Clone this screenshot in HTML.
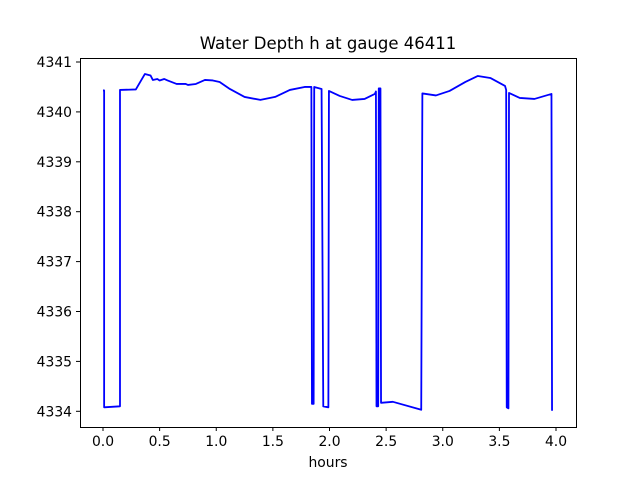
<!DOCTYPE html>
<html><head><meta charset="utf-8"><style>
body{margin:0;background:#fff;}
svg{display:block;font-family:"DejaVu Sans","Liberation Sans",sans-serif;}
</style></head><body>
<svg id="chart" width="640" height="480">
<rect width="640" height="480" fill="#fff"/>
<text x="328" y="49" font-size="16.5" text-anchor="middle">Water Depth h at gauge 46411</text>
<g id="plot"></g>
<rect x="80.5" y="58.5" width="496" height="369" fill="none" stroke="#000" stroke-width="1"/>
<g id="ticks"></g>
<text x="328" y="467" font-size="13.9" text-anchor="middle">hours</text>
</svg>
<script>
const times=[0,0.01,0.01,0.15,0.15,0.29,0.37,0.42,0.44,0.48,0.5,0.54,0.57,0.65,0.73,0.75,0.82,0.9,0.97,1.03,1.12,1.25,1.39,1.52,1.65,1.78,1.84,1.845,1.86,1.865,1.93,1.945,1.99,1.995,2.09,2.2,2.31,2.4,2.41,2.415,2.43,2.435,2.45,2.455,2.56,2.81,2.82,2.94,3.06,3.2,3.31,3.42,3.55,3.56,3.565,3.58,3.585,3.68,3.81,3.96,3.965];
const depths=[4340.43,4340.43,4334.08,4334.1,4340.44,4340.45,4340.76,4340.73,4340.64,4340.66,4340.63,4340.66,4340.63,4340.56,4340.56,4340.54,4340.56,4340.64,4340.63,4340.6,4340.46,4340.3,4340.24,4340.3,4340.44,4340.5,4340.5,4334.15,4334.15,4340.5,4340.46,4334.1,4334.08,4340.42,4340.32,4340.24,4340.26,4340.36,4340.41,4334.1,4334.1,4340.47,4340.47,4334.17,4334.19,4334.03,4340.37,4340.33,4340.42,4340.6,4340.72,4340.68,4340.52,4340.44,4334.08,4334.06,4340.38,4340.28,4340.26,4340.36,4334.01];
const xTicks=[0,0.5,1,1.5,2,2.5,3,3.5,4];
const xTickLabels=["0.0","0.5","1.0","1.5","2.0","2.5","3.0","3.5","4.0"];
const yTicks=[4334,4335,4336,4337,4338,4339,4340,4341];
const yTickLabels=["4334","4335","4336","4337","4338","4339","4340","4341"];
const NS="http://www.w3.org/2000/svg";
const xs=t=>103+t*113.25;
const ys=v=>62+(4341-v)*49.9;
const plot=document.getElementById('plot');
const d=times.map((t,i)=>(i?'L':'M')+xs(t).toFixed(2)+','+ys(depths[i]).toFixed(2)).join('');
const p=document.createElementNS(NS,'path');
p.setAttribute('d',d);p.setAttribute('fill','none');p.setAttribute('stroke','#0000ff');p.setAttribute('stroke-width','1.8');p.setAttribute('stroke-linejoin','round');


plot.appendChild(p);
const tg=document.getElementById('ticks');
xTicks.forEach((t,i)=>{
  const l=document.createElementNS(NS,'line');
  l.setAttribute('x1',xs(t));l.setAttribute('x2',xs(t));l.setAttribute('y1',427);l.setAttribute('y2',431);l.setAttribute('stroke','#000');
  
  
  tg.appendChild(l);
  const tx=document.createElementNS(NS,'text');
  tx.setAttribute('x',xs(t));tx.setAttribute('y',446);tx.setAttribute('font-size','13.9');tx.setAttribute('text-anchor','middle');
  tx.textContent=xTickLabels[i];
  
  
  tg.appendChild(tx);
});
yTicks.forEach((v,i)=>{
  const l=document.createElementNS(NS,'line');
  l.setAttribute('x1',76);l.setAttribute('x2',80);l.setAttribute('y1',ys(v));l.setAttribute('y2',ys(v));l.setAttribute('stroke','#000');
  
  
  tg.appendChild(l);
  const tx=document.createElementNS(NS,'text');
  tx.setAttribute('x',72);tx.setAttribute('y',ys(v)+5);tx.setAttribute('font-size','13.9');tx.setAttribute('text-anchor','end');
  tx.textContent=yTickLabels[i];
  
  
  tg.appendChild(tx);
});
</script>
</body></html>
